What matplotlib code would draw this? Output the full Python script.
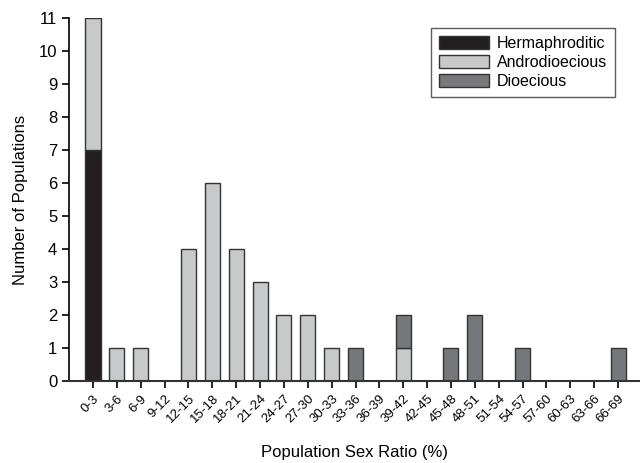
import matplotlib.pyplot as plt
import numpy as np

categories = ["0-3", "3-6", "6-9", "9-12", "12-15", "15-18", "18-21", "21-24",
              "24-27", "27-30", "30-33", "33-36", "36-39", "39-42", "42-45",
              "45-48", "48-51", "51-54", "54-57", "57-60", "60-63", "63-66", "66-69"]
hermaphroditic = [7, 0, 0, 0, 0, 0, 0, 0, 0, 0, 0, 0, 0, 0, 0, 0, 0, 0, 0, 0, 0, 0, 0]
androdioecious = [4, 1, 1, 0, 4, 6, 4, 3, 2, 2, 1, 0, 0, 1, 0, 0, 0, 0, 0, 0, 0, 0, 0]
dioecious = [0, 0, 0, 0, 0, 0, 0, 0, 0, 0, 0, 1, 0, 1, 0, 1, 2, 0, 1, 0, 0, 0, 1]

plt.rcParams['font.family'] = ['Liberation Sans', 'DejaVu Sans']

fig = plt.figure(figsize=(6.4, 4.63), dpi=100)
ax = fig.add_axes([0.108, 0.177, 0.892, 0.784])

x = np.arange(len(categories))
herm = np.array(hermaphroditic)
andr = np.array(androdioecious)
dio = np.array(dioecious)
w = 0.63
edge = "#333333"

def draw(vals, bottom, color, label):
    # skip zero-height bars so no flat edge lines show
    m = vals > 0
    ax.bar(x[m], vals[m], w, bottom=bottom[m], color=color, edgecolor=edge,
           linewidth=1.0, label=label)

draw(herm, np.zeros_like(herm), "#231f20", "Hermaphroditic")
draw(andr, herm, "#c8c9ca", "Androdioecious")
draw(dio, herm + andr, "#77787b", "Dioecious")

ax.set_xlim(-1.0, 22.92)
ax.set_ylim(0, 11)
ax.set_yticks(range(0, 12))
ax.set_xticks(x)
ax.set_xticklabels(categories, rotation=45, ha="right", rotation_mode="anchor",
                   fontsize=9.5)
ax.tick_params(axis="y", labelsize=12, length=5, width=1.2, direction="out")
ax.tick_params(axis="x", length=5, width=1.2, direction="out")

for s in ["top", "right"]:
    ax.spines[s].set_visible(False)
ax.spines["left"].set_linewidth(1.2)
ax.spines["bottom"].set_linewidth(1.5)
ax.spines["bottom"].set_color("#333333")

ax.set_ylabel("Number of Populations", fontsize=12, labelpad=8)
ax.set_xlabel("Population Sex Ratio (%)", fontsize=12, labelpad=14)

leg = ax.legend(loc="upper right", bbox_to_anchor=(0.956, 0.972), borderaxespad=0,
                fontsize=11.5, frameon=True, fancybox=False, edgecolor="#333333",
                handlelength=3.1, handleheight=0.9, handletextpad=0.5,
                labelspacing=0.22, borderpad=0.5)
leg.get_frame().set_linewidth(1.0)

fig.savefig("out.png", dpi=100)
